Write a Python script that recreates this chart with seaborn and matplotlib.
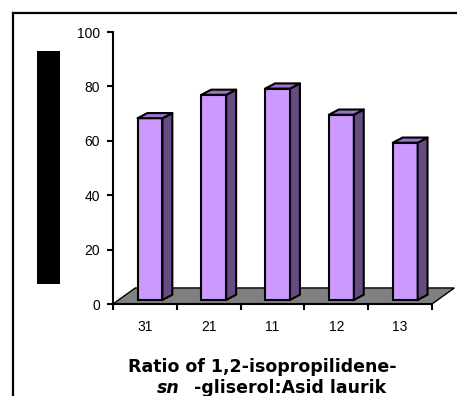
import matplotlib
matplotlib.use("Agg")
import matplotlib.pyplot as plt
from matplotlib.patches import Polygon, Rectangle
from matplotlib.lines import Line2D
import seaborn as sns
import pandas as pd

# ---- data ----
ratios = ["31", "21", "11", "12", "13"]
values = [66.8, 75.4, 77.7, 68.1, 57.8]
y_ticks = [0, 20, 40, 60, 80, 100]
xlabel_line1 = "Ratio of 1,2-isopropilidene-"
xlabel_italic = "sn"
xlabel_rest = "-gliserol:Asid laurik"

plt.rcParams["font.family"] = ["Liberation Sans", "DejaVu Sans"]

W, H = 457, 396
fig = plt.figure(figsize=(W / 100, H / 100), dpi=100)
fig.patch.set_facecolor("white")

# axes area in pixels: x 113..432, y 32..304
ax = fig.add_axes([113 / W, (H - 304) / H, (432 - 113) / W, (304 - 32) / H])
ax.set_facecolor("none")

df = pd.DataFrame({"ratio": ratios, "value": values})
sns.barplot(data=df, x="ratio", y="value", color="#CC99FF", saturation=1,
            width=0.39, edgecolor="black", linewidth=1.5, ax=ax, zorder=3)

ax.set_xlim(-0.5, len(ratios) - 0.5)
ax.set_ylim(0, 100)

# floor (3D base)
fdx, fdy = 0.35, 5.9
x0, x1 = -0.5, len(ratios) - 0.5
floor = Polygon([(x0, 0), (x1, 0), (x1 + fdx, fdy), (x0 + fdx, fdy)],
                closed=True, facecolor="#808080", edgecolor="black",
                linewidth=1.0, clip_on=False, zorder=1)
ax.add_patch(floor)

# 3D shading for each bar derived from the bar patches
bdx, bdy = 0.155, 1.9
shift_x, shift_y = 0.08, 1.5
for p in list(ax.patches):
    if p is floor:
        continue
    p.set_x(p.get_x() + shift_x)
    p.set_y(p.get_y() + shift_y)
    p.set_clip_on(False)
    bx0 = p.get_x()
    bx1 = bx0 + p.get_width()
    by0 = p.get_y()
    by1 = by0 + p.get_height()
    side = Polygon([(bx1, by0), (bx1 + bdx, by0 + bdy), (bx1 + bdx, by1 + bdy), (bx1, by1)],
                   closed=True, facecolor="#664C80", edgecolor="black",
                   linewidth=1.5, joinstyle="round", clip_on=False, zorder=3)
    top = Polygon([(bx0, by1), (bx1, by1), (bx1 + bdx, by1 + bdy), (bx0 + bdx, by1 + bdy)],
                  closed=True, facecolor="#9973CC", edgecolor="black",
                  linewidth=1.5, joinstyle="round", clip_on=False, zorder=3)
    ax.add_patch(side)
    ax.add_patch(top)

# spines
for s in ["top", "right"]:
    ax.spines[s].set_visible(False)
ax.spines["left"].set_linewidth(1.5)
ax.spines["bottom"].set_linewidth(1.5)
ax.spines["left"].set_zorder(4)
ax.spines["bottom"].set_zorder(4)

# y ticks
ax.set_yticks(y_ticks)
ax.set_yticklabels([str(v) for v in y_ticks])
ax.tick_params(axis="y", direction="out", length=4.3, width=1.5, pad=5,
               labelsize=10, colors="black")

# x ticks: labels at centers, tick marks at boundaries
ax.set_xticks(range(len(ratios)))
ax.set_xticklabels(ratios)
ax.set_xticks([i - 0.5 for i in range(len(ratios) + 1)], minor=True)
ax.tick_params(axis="x", which="major", length=0, pad=11.5, labelsize=10)
ax.tick_params(axis="x", which="minor", direction="out", length=4.3, width=1.5)
ax.set_xlabel("")
ax.set_ylabel("")

# x-axis title (two lines, second with italic "sn")
title_font = ["DejaVu Sans"]
fig.text(262 / W, 1 - 372 / H, xlabel_line1, ha="center", va="baseline",
         fontsize=12.5, fontweight="bold", family=title_font)
fig.text(157 / W, 1 - 393 / H, xlabel_italic, ha="left", va="baseline",
         fontsize=12.5, fontweight="bold", fontstyle="italic", family=title_font)
fig.text(194 / W, 1 - 393 / H, xlabel_rest, ha="left", va="baseline",
         fontsize=12.5, fontweight="bold", family=title_font)

# black block at the y-axis title position
fig.add_artist(Rectangle((37 / W, 1 - 284 / H), 23 / W, 233 / H,
                         transform=fig.transFigure, facecolor="black",
                         edgecolor="none"))

# outer chart frame (left and top edges visible)
fig.add_artist(Line2D([12.5 / W, 12.5 / W], [1 - 13 / H, -0.05],
                      transform=fig.transFigure, color="black", linewidth=1.6))
fig.add_artist(Line2D([12.5 / W, 1.05], [1 - 13 / H, 1 - 13 / H],
                      transform=fig.transFigure, color="black", linewidth=1.6))

fig.savefig("out.png", dpi=100)
